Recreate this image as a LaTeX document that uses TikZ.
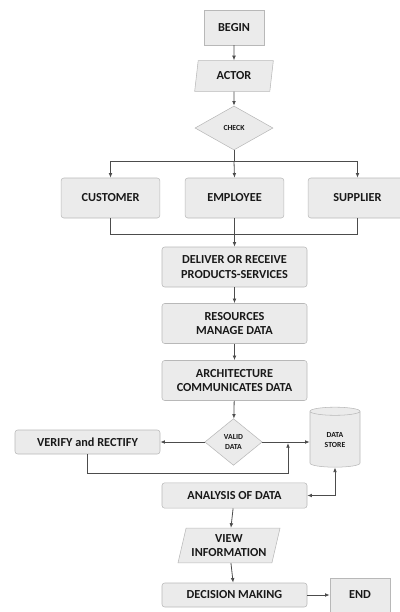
\documentclass[tikz,border=0pt]{standalone}
\usepackage{fontspec}
\setmainfont{Carlito}
\usetikzlibrary{shapes.geometric,arrows.meta}

\tikzset{
  base/.style={draw=black!28, fill=black!8, font=\bfseries\fontsize{9.2}{10.6}\selectfont, text=black!90, align=center, inner sep=1pt},
  procbox/.style={base, rectangle, rounded corners=2pt, minimum width=108.75pt, minimum height=30pt},
  termbox/.style={base, rectangle, minimum width=45pt, minimum height=26pt},
  iobox/.style={base, trapezium, trapezium left angle=72, trapezium right angle=108, trapezium stretches body},
  testbox/.style={base, diamond, inner sep=0pt, font=\bfseries\fontsize{5.8}{6.8}\selectfont},
  storebox/.style={base, cylinder, shape border rotate=90, aspect=0.35, font=\bfseries\fontsize{5.8}{7.4}\selectfont},
  flow/.style={draw=black!70, line width=0.6pt, -{Latex[length=3.5pt,width=2.8pt]}},
  plain/.style={draw=black!70, line width=0.6pt}
}

\begin{document}
\begin{tikzpicture}[x=0.75pt, y=-0.75pt]
  %%%%% START %%%%%
  \useasboundingbox (0,0) rectangle (400,612);

  \node[termbox] (begin) at (234,27.5) {BEGIN};
  \node[iobox, minimum width=59pt, minimum height=23pt] (actor) at (234,76) {ACTOR};
  \node[testbox, minimum width=58.5pt, minimum height=33pt] (check) at (234,128) {CHECK};

  \node[procbox, minimum width=74pt] (cust) at (110.5,198) {CUSTOMER};
  \node[procbox, minimum width=74pt] (emp) at (234.5,198) {EMPLOYEE};
  \node[procbox, minimum width=74pt] (sup) at (357.5,198) {SUPPLIER};

  \node[procbox] (deliver) at (234.5,267) {DELIVER OR RECEIVE\\PRODUCTS-SERVICES};
  \node[procbox] (manage) at (234.5,323.5) {RESOURCES\\MANAGE DATA};
  \node[procbox] (comm) at (234.5,380.5) {ARCHITECTURE\\COMMUNICATES DATA};

  \node[testbox, minimum width=43pt, minimum height=35pt] (valid) at (233.5,442) {VALID\\DATA};
  \node[procbox, minimum height=18pt] (verify) at (87.5,442) {VERIFY and RECTIFY};
  \node[storebox, minimum width=37.5pt, minimum height=45pt] (store) at (335,440) {DATA\\STORE};

  \node[procbox, minimum height=19pt] (analysis) at (234.5,495.5) {ANALYSIS OF DATA};
  \node[iobox, minimum width=76.5pt, minimum height=26pt] (view) at (229,545.5) {VIEW\\INFORMATION};
  \node[procbox, minimum height=18pt] (decide) at (234.5,595) {DECISION MAKING};
  \node[termbox, minimum height=25.5pt] (end) at (360,595) {END};

  \coordinate (fork) at (234,161);
  \coordinate (join) at (234,234);
  \coordinate (back) at (288,443);

  \draw[flow] (begin) -- (actor);
  \draw[flow] (actor) -- (check);
  \draw[plain] (check.south) -- (fork);
  \draw[flow] (fork) -| (cust.north);
  \draw[flow] (fork) -- (emp.north);
  \draw[flow] (fork) -| (sup.north);
  \draw[plain] (cust.south) |- (join);
  \draw[plain] (sup.south) |- (join);
  \draw[flow] (emp) -- (deliver);
  \draw[flow] (deliver) -- (manage);
  \draw[flow] (manage) -- (comm);
  \draw[flow] (comm) -- (valid);
  \draw[flow] (valid.west) -- (verify.east);
  \draw[flow] (valid.east) -- (valid.east -| store.west);
  \draw[flow] (verify.south) -- ++(0,19) -| (back);
  \draw[flow, {Latex[length=3.5pt,width=2.8pt]}-{Latex[length=3.5pt,width=2.8pt]}] (store.south) |- (analysis.east);
  \draw[flow] (analysis) -- (view);
  \draw[flow] (view) -- (decide);
  \draw[flow] (decide) -- (end);
  %%%%% END %%%%%
\end{tikzpicture}
\end{document}
